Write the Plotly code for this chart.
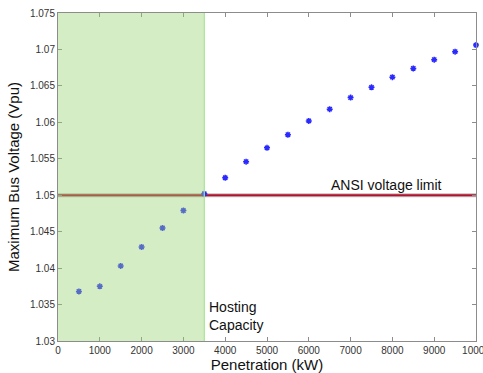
import plotly.graph_objects as go

penetration_kw = [500, 1000, 1500, 2000, 2500, 3000, 3500, 4000, 4500, 5000,
                  5500, 6000, 6500, 7000, 7500, 8000, 8500, 9000, 9500, 10000]
max_voltage_vpu = [1.0368, 1.0375, 1.0403, 1.0429, 1.0455, 1.0479, 1.0502, 1.0524,
                   1.0546, 1.0565, 1.0583, 1.0602, 1.0618, 1.0634, 1.0648, 1.0662,
                   1.0674, 1.0686, 1.0697, 1.0706]
ansi_limit = 1.05
hosting_capacity_kw = 3500
x_range = [0, 10000]
y_range = [1.03, 1.075]
x_ticks = [0, 1000, 2000, 3000, 4000, 5000, 6000, 7000, 8000, 9000, 10000]
x_tick_labels = ["0", "1000", "2000", "3000", "4000", "5000", "6000", "7000", "8000", "9000", "10000"]
y_ticks = [1.03, 1.035, 1.04, 1.045, 1.05, 1.055, 1.06, 1.065, 1.07, 1.075]
y_tick_labels = ["1.03", "1.035", "1.04", "1.045", "1.05", "1.055", "1.06", "1.065", "1.07", "1.075"]

fig = go.Figure()

# limit line shadow + line
fig.add_trace(go.Scatter(x=x_range, y=[ansi_limit, ansi_limit], mode="lines",
                         line=dict(color="rgba(150,150,150,0.6)", width=4),
                         hoverinfo="skip", showlegend=False))
fig.add_trace(go.Scatter(x=x_range, y=[ansi_limit, ansi_limit], mode="lines",
                         line=dict(color="#b3122e", width=2),
                         hoverinfo="skip", showlegend=False))

fig.add_trace(go.Scatter(x=penetration_kw, y=max_voltage_vpu, mode="markers",
                         marker=dict(symbol="asterisk-open", size=5, color="#2a2aff",
                                     line=dict(color="#2a2aff", width=1.5)),
                         cliponaxis=False, showlegend=False))

fig.add_shape(type="rect", xref="x", yref="y", x0=x_range[0], x1=hosting_capacity_kw,
              y0=y_range[0], y1=y_range[1], layer="above",
              fillcolor="rgba(150,210,110,0.40)", line=dict(width=0))
fig.add_shape(type="line", xref="x", yref="y", x0=hosting_capacity_kw, x1=hosting_capacity_kw,
              y0=y_range[0], y1=y_range[1], layer="above",
              line=dict(color="#a8e496", width=1.2))

fig.add_annotation(x=7870, y=1.0514, xref="x", yref="y", text="ANSI voltage limit",
                   showarrow=False, font=dict(family="Liberation Sans, Arial", size=14, color="#111"))
fig.add_annotation(x=3570, y=1.0334, xref="x", yref="y", text="Hosting<br>Capacity",
                   showarrow=False, xanchor="left", align="left",
                   font=dict(family="Liberation Sans, Arial", size=14, color="#111"))

axis_common = dict(showline=True, mirror="ticks", linecolor="#8c8c8c", linewidth=1,
                   ticks="inside", ticklen=4, tickcolor="#8c8c8c", showgrid=False,
                   zeroline=False, ticklabeloverflow="allow",
                   tickfont=dict(family="Liberation Sans, Arial", size=10, color="#333"))

fig.update_layout(
    width=483, height=373,
    margin=dict(l=58, r=7, t=13, b=32),
    paper_bgcolor="white", plot_bgcolor="white",
    xaxis=dict(range=x_range, tickvals=x_ticks, ticktext=x_tick_labels, automargin=False,
               title=dict(text="Penetration (kW)", standoff=4,
                          font=dict(family="Liberation Sans, Arial", size=15, color="#111")),
               **axis_common),
    yaxis=dict(range=y_range, tickvals=y_ticks, ticktext=y_tick_labels, automargin=False,
               title=dict(text="Maximum Bus Voltage (Vpu)", standoff=6,
                          font=dict(family="Liberation Sans, Arial", size=15, color="#111")),
               **axis_common),
)

fig.write_html("out.html")
